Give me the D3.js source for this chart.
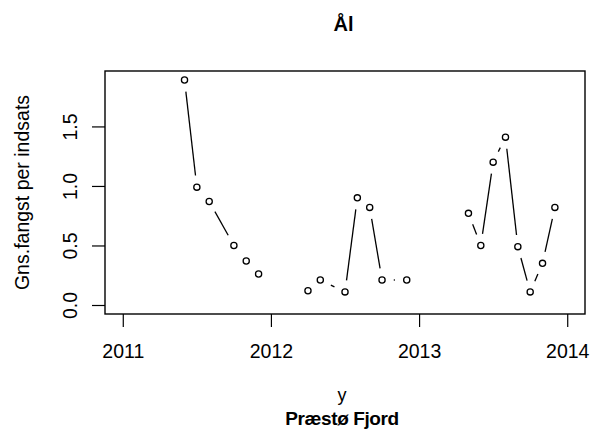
<!DOCTYPE html>
<html>
<head>
<meta charset="utf-8">
<script src="https://cdn.jsdelivr.net/npm/d3@7"></script>
<style>
  html, body { margin: 0; padding: 0; background: #fff; }
  svg { display: block; }
  text { font-family: "Liberation Sans", Arial, sans-serif; fill: #000; }
</style>
</head>
<body>
<svg id="chart" width="597" height="438"></svg>
<script>
// ---- data (null marks a break in the line) ----
const times = [
  2011.4167, 2011.5, 2011.5833, 2011.75, 2011.8333, 2011.9167, null,
  2012.25, 2012.3333, 2012.5, 2012.5833, 2012.6667, 2012.75, 2012.9167, null,
  2013.3333, 2013.4167, 2013.5, 2013.5833, 2013.6667, 2013.75, 2013.8333, 2013.9167
];
const values = [
  1.89, 0.99, 0.87, 0.50, 0.37, 0.26, null,
  0.12, 0.21, 0.11, 0.90, 0.82, 0.21, 0.21, null,
  0.77, 0.50, 1.20, 1.41, 0.49, 0.11, 0.35, 0.82
];
const xTicks = [2011, 2012, 2013, 2014];
const yTicks = [0, 0.5, 1.0, 1.5];
const title = "Ål";
const yLabel = "Gns.fangst per indsats";
const xLabel = "y";
const subLabel = "Præstø Fjord";

// ---- layout ----
const svg = d3.select("#chart");
const box = { left: 105, right: 585, top: 71, bottom: 314 };

const xlim = [2011, 2014];
const xpad = (xlim[1] - xlim[0]) * 0.04;
const x = d3.scaleLinear()
  .domain([xlim[0] - xpad, xlim[1] + xpad])
  .range([box.left, box.right]);

const yExt = [0, d3.max(values.filter(v => v !== null))];
const ypad = (yExt[1] - yExt[0]) * 0.04;
const y = d3.scaleLinear()
  .domain([yExt[0] - ypad, yExt[1] + ypad])
  .range([box.bottom, box.top]);

// ---- box ----
svg.append("rect")
  .attr("x", box.left).attr("y", box.top)
  .attr("width", box.right - box.left).attr("height", box.bottom - box.top)
  .attr("fill", "none").attr("stroke", "#000").attr("stroke-width", 1.4);

// ---- axes ----
const xAxis = d3.axisBottom(x).tickValues(xTicks).tickSize(13).tickPadding(15)
  .tickFormat(d3.format("d"));
const gx = svg.append("g").attr("transform", `translate(0,${box.bottom})`).call(xAxis);
gx.select(".domain").remove();
gx.selectAll(".tick line").attr("stroke", "#000").attr("stroke-width", 1.2);
gx.selectAll(".tick text").attr("font-size", "19.5px").attr("font-family", "Liberation Sans, Arial, sans-serif")
  .attr("dy", null).attr("y", 44);

const yAxis = d3.axisLeft(y).tickValues(yTicks).tickSize(13).tickFormat(d3.format(".1f"));
const gy = svg.append("g").attr("transform", `translate(${box.left},0)`).call(yAxis);
gy.select(".domain").remove();
gy.selectAll(".tick line").attr("stroke", "#000").attr("stroke-width", 1.2);
gy.selectAll(".tick text")
  .attr("font-size", "19.5px").attr("font-family", "Liberation Sans, Arial, sans-serif")
  .attr("x", null).attr("dy", null)
  .attr("text-anchor", "middle")
  .attr("transform", "translate(-28,0) rotate(-90)");

// ---- type="b" lines with gaps around points ----
const gap = 11.7;
const pts = times.map((t, i) => (t === null || values[i] === null) ? null : [x(t), y(values[i])]);
const segs = [];
for (let i = 0; i < pts.length - 1; i++) {
  const a = pts[i], b = pts[i + 1];
  if (!a || !b) continue;
  const dx = b[0] - a[0], dy = b[1] - a[1];
  const d = Math.hypot(dx, dy);
  if (d <= 2 * gap) continue;
  const f = gap / d;
  segs.push([a[0] + f * dx, a[1] + f * dy, b[0] - f * dx, b[1] - f * dy]);
}
svg.append("g").selectAll("line").data(segs).join("line")
  .attr("x1", d => d[0]).attr("y1", d => d[1])
  .attr("x2", d => d[2]).attr("y2", d => d[3])
  .attr("stroke", "#000").attr("stroke-width", 1.3);

svg.append("g").selectAll("circle").data(pts.filter(p => p)).join("circle")
  .attr("cx", d => d[0]).attr("cy", d => d[1]).attr("r", 3.1)
  .attr("fill", "none").attr("stroke", "#000").attr("stroke-width", 1.3);

// ---- labels ----
const cx = (box.left + box.right) / 2;
svg.append("text").attr("x", cx - 1.5).attr("y", 31).attr("text-anchor", "middle")
  .attr("font-size", "20px").attr("font-weight", "bold").text(title);

svg.append("text").attr("transform", `translate(29,${(box.top + box.bottom) / 2}) rotate(-90)`)
  .attr("text-anchor", "middle").attr("font-size", "19.5px").text(yLabel);

svg.append("text").attr("x", cx - 3).attr("y", 401).attr("text-anchor", "middle")
  .attr("font-size", "18px").text(xLabel);

svg.append("text").attr("x", cx - 3).attr("y", 425).attr("text-anchor", "middle")
  .attr("font-size", "19px").attr("font-weight", "bold").attr("letter-spacing", "-0.4px")
  .text(subLabel);
</script>
</body>
</html>
